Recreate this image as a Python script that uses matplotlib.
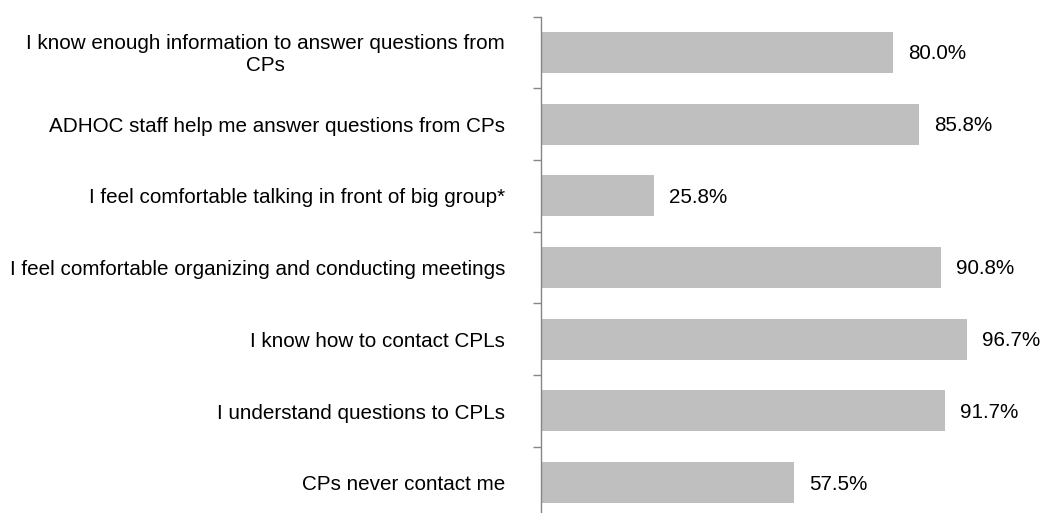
import numpy as np
import matplotlib.pyplot as plt

plt.rcParams['font.family'] = ['Liberation Sans', 'DejaVu Sans']

# statements, top to bottom
labels = [
    "I know enough information to answer questions from\nCPs",
    "ADHOC staff help me answer questions from CPs",
    "I feel comfortable talking in front of big group*",
    "I feel comfortable organizing and conducting meetings",
    "I know how to contact CPLs",
    "I understand questions to CPLs",
    "CPs never contact me",
]
pct = [80.0, 85.8, 25.8, 90.8, 96.7, 91.7, 57.5]

fig = plt.figure(figsize=(10.55, 5.13), dpi=100)
ax = fig.add_axes([540.5 / 1055, -5.5 / 513, 441 / 1055, 502 / 513])

n = len(labels)
y = np.arange(n)
ax.barh(y, pct, height=0.57, color='#bfbfbf', edgecolor='none')

for yi, v in zip(y, pct):
    ax.text(v + 3.4, yi + 0.02, f"{v:.1f}%", va='center', ha='left', fontsize=14.9, color='black')

ax.set_xlim(0, 100)
ax.set_ylim(n - 0.5, -0.5)
ax.set_xticks([])

# category labels drawn as text so the two-line one can be centred
ax.set_yticks([])
for yi, lab in zip(y, labels):
    ax.text(-0.08, yi + 0.03, lab, transform=ax.get_yaxis_transform(), ha='right', va='center',
            multialignment='center', fontsize=14.9, linespacing=1.25)

# tick marks at category boundaries
ax.set_yticks(np.arange(-0.5, n + 0.5, 1), minor=True)
ax.tick_params(axis='y', which='minor', length=6, color='#868686', width=1)

for s in ['top', 'right', 'bottom']:
    ax.spines[s].set_visible(False)
ax.spines['left'].set_color('#868686')
ax.spines['left'].set_linewidth(1)

fig.savefig('out.png', dpi=100)
